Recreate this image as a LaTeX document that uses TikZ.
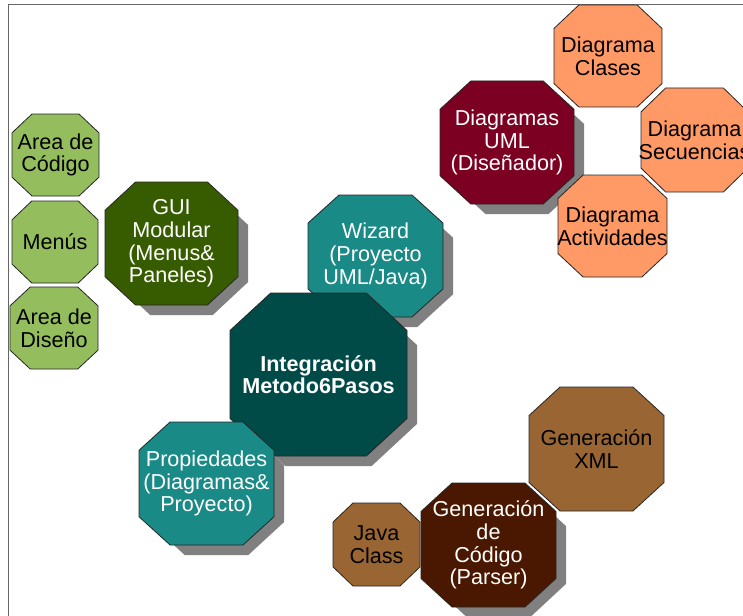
\documentclass[tikz,border=0pt]{standalone}
\usepackage{fontspec}
\setmainfont{Liberation Sans}
\definecolor{lgreen}{HTML}{94BE5E}
\definecolor{dgreen}{HTML}{375C00}
\definecolor{teal1}{HTML}{1A8A86}
\definecolor{dteal}{HTML}{004A48}
\definecolor{maroon1}{HTML}{7B0021}
\definecolor{orange1}{HTML}{FF9966}
\definecolor{brown1}{HTML}{996633}
\definecolor{dbrown}{HTML}{4A1800}
\definecolor{shadowc}{HTML}{808080}
\definecolor{framec}{HTML}{666666}
\tikzset{
  octline/.style={draw=black!85, line width=0.8pt},
  octtext/.style={align=center, inner sep=0pt, font=\fontsize{21.6}{22.6}\selectfont},
}
% octagon path from bounding box x1,y1,x2,y2
\newcommand\octpath[4]{({#1+0.23*(#3-#1)},{#2}) -- ({#3-0.23*(#3-#1)},{#2}) -- ({#3},{#2+0.23*(#4-#2)}) -- ({#3},{#4-0.23*(#4-#2)}) -- ({#3-0.23*(#3-#1)},{#4}) -- ({#1+0.23*(#3-#1)},{#4}) -- ({#1},{#4-0.23*(#4-#2)}) -- ({#1},{#2+0.23*(#4-#2)}) -- cycle}
% name, x1,y1,x2,y2, fill, text colour, text
\newcommand\octplain[8]{%
  \path[octline, fill=#6] \octpath{#2}{#3}{#4}{#5};
  \node[octtext, text=#7] (#1) at ({(#2+#4)/2},{(#3+#5)/2}) {#8};}
\newcommand\octshadow[8]{%
  \fill[shadowc] \octpath{#2+10}{#3+10}{#4+10}{#5+10};
  \octplain{#1}{#2}{#3}{#4}{#5}{#6}{#7}{#8}}
\begin{document}
\begin{tikzpicture}[x=1pt,y=-1pt]
\useasboundingbox (0,0) rectangle (743,615);
\clip (0,0) rectangle (743,615);
\fill[white] (0,0) rectangle (743,615);
\draw[framec, line width=1pt] (8.5,620) -- (8.5,5) -- (750,5);

\octplain{codigo}{12}{114}{99}{196}{lgreen}{black}{Area de\\Código}
\octplain{menus}{12}{201}{98}{283}{lgreen}{black}{Menús}
\octplain{diseno}{10}{287}{98}{369}{lgreen}{black}{Area de\\Diseño}
\octshadow{gui}{105}{182}{238}{305}{dgreen}{white}{GUI\\Modular\\(Menus\&\\Paneles)}
\octshadow{wizard}{308}{195}{443}{317}{teal1}{white}{Wizard\\(Proyecto\\UML/Java)}
\octshadow{integ}{230}{293}{407}{456}{dteal}{white}{\bfseries Integración\\\bfseries Metodo6Pasos}
\octshadow{props}{139}{422}{274}{545}{teal1}{white}{Propiedades\\(Diagramas\&\\Proyecto)}

\octplain{clases}{554}{5}{662}{107}{orange1}{black}{Diagrama\\Clases}
\octplain{secuencias}{641}{88}{748}{192}{orange1}{black}{Diagrama\\Secuencias}
\octshadow{uml}{440}{81}{574}{204}{maroon1}{white}{Diagramas\\UML\\(Diseñador)}
\octplain{actividades}{558}{175}{667}{277}{orange1}{black}{Diagrama\\Actividades}

\octplain{xml}{529}{387}{664}{511}{brown1}{black}{Generación\\XML}
\octplain{java}{333}{503}{420}{586}{brown1}{black}{Java\\Class}
\octshadow{codegen}{421}{483}{556}{607}{dbrown}{white}{Generación\\de\\Código\\(Parser)}
\end{tikzpicture}
\end{document}
